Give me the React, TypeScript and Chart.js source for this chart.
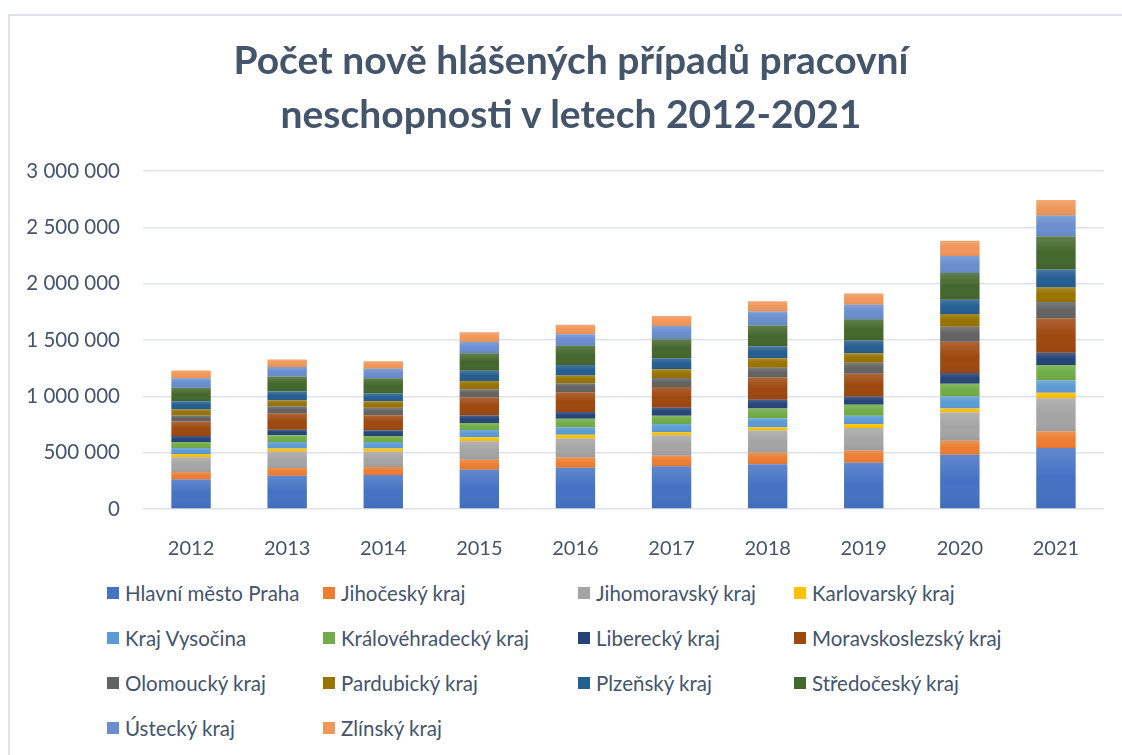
import React, { useEffect, useRef } from "react";
import { Chart, registerables } from "chart.js";

Chart.register(...registerables);

const years = ["2012", "2013", "2014", "2015", "2016", "2017", "2018", "2019", "2020", "2021"];

const praha = [262000, 296000, 302000, 349000, 367000, 379000, 398000, 411000, 482000, 541000];
const jihocesky = [67000, 68000, 71000, 89000, 89000, 94000, 101000, 106000, 124000, 147000];
const jihomoravsky = [130000, 145000, 136000, 163000, 169000, 181000, 198000, 201000, 251000, 296000];
const karlovarsky = [29000, 27000, 29000, 36000, 33000, 29000, 29000, 36000, 36000, 47000];
const vysocina = [53000, 59000, 56000, 65000, 68000, 71000, 80000, 74000, 106000, 109000];
const kralovehradecky = [53000, 59000, 53000, 62000, 74000, 74000, 86000, 98000, 113000, 137000];
const liberecky = [53000, 50000, 53000, 65000, 62000, 71000, 77000, 71000, 95000, 109000];
const moravskoslezsky = [130000, 145000, 133000, 163000, 175000, 184000, 198000, 204000, 278000, 304000];
const olomoucky = [53000, 62000, 65000, 71000, 80000, 80000, 86000, 98000, 133000, 148000];
const pardubicky = [53000, 53000, 59000, 74000, 67000, 77000, 86000, 83000, 113000, 127000];
const plzensky = [74000, 80000, 68000, 91000, 95000, 98000, 104000, 113000, 127000, 160000];
const stredocesky = [119000, 133000, 136000, 154000, 169000, 169000, 186000, 189000, 237000, 293000];
const ustecky = [85000, 83000, 83000, 100000, 104000, 118000, 124000, 128000, 151000, 186000];
const zlinsky = [68000, 68000, 68000, 86000, 83000, 89000, 91000, 100000, 136000, 139000];

const titleLines = ["Počet nově hlášených případů pracovní", "neschopnosti v letech 2012-2021"];

const seriesNames = [
  "Hlavní město Praha",
  "Jihočeský kraj",
  "Jihomoravský kraj",
  "Karlovarský kraj",
  "Kraj Vysočina",
  "Královéhradecký kraj",
  "Liberecký kraj",
  "Moravskoslezský kraj",
  "Olomoucký kraj",
  "Pardubický kraj",
  "Plzeňský kraj",
  "Středočeský kraj",
  "Ústecký kraj",
  "Zlínský kraj",
];

const seriesValues = [
  praha, jihocesky, jihomoravsky, karlovarsky, vysocina, kralovehradecky, liberecky,
  moravskoslezsky, olomoucky, pardubicky, plzensky, stredocesky, ustecky, zlinsky,
];

const seriesColors = [
  "#4472C4", "#ED7D31", "#A5A5A5", "#FFC000", "#5B9BD5", "#70AD47", "#264478",
  "#9E480E", "#636363", "#997300", "#255E91", "#43682B", "#698ED0", "#F1975A",
];

const yTickValues = [0, 500000, 1000000, 1500000, 2000000, 2500000, 3000000];

const TEXT = "#44546A";
const FONT = "Lato, 'Open Sans', sans-serif";

const fmt = (v: number) => String(Math.round(v)).replace(/\B(?=(\d{3})+(?!\d))/g, " ");

const shadePlugin = {
  id: "shade",
  afterDatasetsDraw(chart: any) {
    const ctx = chart.ctx;
    chart.data.datasets.forEach((_: any, di: number) => {
      const meta = chart.getDatasetMeta(di);
      meta.data.forEach((el: any) => {
        const top = Math.min(el.y, el.base);
        const bottom = Math.max(el.y, el.base);
        const h = bottom - top;
        if (h <= 0) return;
        const g = ctx.createLinearGradient(0, top, 0, bottom);
        g.addColorStop(0, "rgba(255,255,255,0.16)");
        g.addColorStop(0.5, "rgba(255,255,255,0)");
        g.addColorStop(1, "rgba(0,0,0,0.06)");
        ctx.save();
        ctx.fillStyle = g;
        ctx.fillRect(el.x - el.width / 2, top, el.width, h);
        ctx.restore();
      });
    });
  },
};

function ChartView() {
  const ref = useRef<HTMLCanvasElement | null>(null);
  useEffect(() => {
    if (!ref.current) return;
    const chart = new Chart(ref.current, {
      type: "bar",
      data: {
        labels: years,
        datasets: seriesNames.map((name, i) => ({
          label: name,
          data: seriesValues[i],
          backgroundColor: seriesColors[i],
          borderWidth: 0,
          barPercentage: 0.41,
          categoryPercentage: 1,
        })),
      },
      options: {
        animation: false,
        responsive: false,
        maintainAspectRatio: false,
        layout: { padding: { left: 0, right: 32, top: 155, bottom: 0 } },
        plugins: {
          legend: { display: false },
          tooltip: { enabled: false },
          title: { display: false },
        },
        scales: {
          x: {
            stacked: true,
            grid: { display: false },
            border: { display: false },
            ticks: { color: TEXT, font: { family: FONT, size: 20 }, padding: 20 },
            afterFit: (s: any) => { s.height = 61; },
          },
          y: {
            stacked: true,
            min: 0,
            max: 3000000,
            afterBuildTicks: (s: any) => { s.ticks = yTickValues.map((v) => ({ value: v })); },
            grid: { color: "#dfe3e9", lineWidth: 1.5, drawTicks: false },
            border: { display: false },
            ticks: {
              color: TEXT,
              font: { family: FONT, size: 20.5 },
              padding: 23,
              callback: (v: any) => fmt(Number(v)),
            },
            afterFit: (s: any) => { s.width = 133; },
          },
        },
      },
      plugins: [shadePlugin],
    });
    return () => chart.destroy();
  }, []);
  return <canvas ref={ref} width={1126} height={554} style={{ display: "block" }} />;
}

const legendCols = [107, 323, 578, 794];
const legendRows = [593, 638, 683, 728];

export default function App() {
  return (
    <div style={{ position: "fixed", left: 0, top: 0, width: 1122, height: 755, overflow: "hidden", background: "#fff" }}>
      <div
        style={{
          position: "absolute",
          left: 8,
          top: 14,
          width: 1130,
          height: 800,
          border: "2px solid #dfe3e9",
          boxSizing: "border-box",
        }}
      />
      <div style={{ position: "absolute", left: 10, top: 16 }}>
        <ChartView />
      </div>
      <div
        style={{
          position: "absolute",
          left: 71,
          width: 1000,
          top: 32,
          textAlign: "center",
          fontFamily: FONT,
          fontWeight: "bold",
          fontSize: 39,
          lineHeight: "54px",
          color: TEXT,
          whiteSpace: "nowrap",
        }}
      >
        {titleLines.map((t) => (
          <div key={t}>{t}</div>
        ))}
      </div>
      {seriesNames.map((name, i) => {
        const col = i % 4;
        const row = Math.floor(i / 4);
        return (
          <div
            key={name}
            style={{
              position: "absolute",
              left: legendCols[col],
              top: legendRows[row] - 14,
              height: 28,
              display: "flex",
              alignItems: "center",
              whiteSpace: "nowrap",
              fontFamily: FONT,
              fontSize: 20.5,
              color: TEXT,
            }}
          >
            <span style={{ display: "inline-block", width: 12, height: 12, background: seriesColors[i], marginRight: 6 }} />
            <span>{name}</span>
          </div>
        );
      })}
    </div>
  );
}
